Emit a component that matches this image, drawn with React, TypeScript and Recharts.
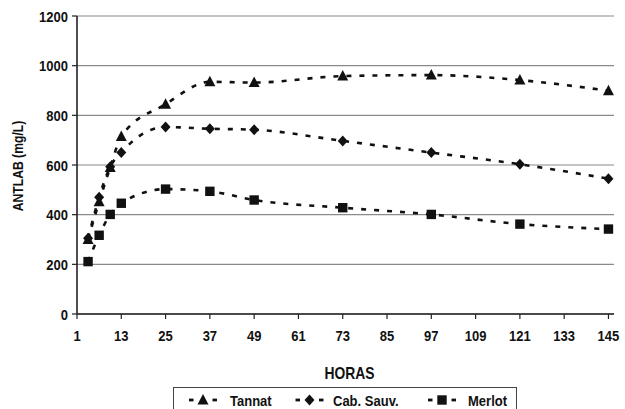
import React from 'react';
import { LineChart, Line, XAxis, YAxis, CartesianGrid } from 'recharts';

const hours = [4, 7, 10, 13, 25, 37, 49, 73, 97, 121, 145];
const tannat = [300, 452, 590, 715, 845, 935, 932, 958, 962, 942, 899];
const cabSauv = [305, 470, 593, 650, 753, 746, 742, 697, 650, 603, 545];
const merlot = [211, 317, 401, 446, 503, 494, 459, 428, 401, 362, 342];

const xTicks = [1, 13, 25, 37, 49, 61, 73, 85, 97, 109, 121, 133, 145];
const yTicks = [0, 200, 400, 600, 800, 1000, 1200];
const seriesNames = ['Tannat', 'Cab. Sauv.', 'Merlot'];
const xLabel = 'HORAS';
const yLabel = 'ANTLAB (mg/L)';

const data = hours.map((h, i) => ({ h, tannat: tannat[i], cab: cabSauv[i], merlot: merlot[i] }));

const FONT = '"Liberation Sans", Arial, sans-serif';
const NARROW = 0.84;
const INK = '#111';

function NText({ x, y, anchor = 'middle', size, rotate = 0, children }: any) {
  return (
    <text
      transform={`translate(${x},${y}) rotate(${rotate}) scale(${NARROW},1)`}
      textAnchor={anchor}
      fontSize={size}
      fontWeight="bold"
      fontFamily={FONT}
      fill="#111"
    >
      {children}
    </text>
  );
}

const triangle = (cx: number, cy: number, k = 1) => (
  <polygon points={`${cx},${cy - 6 * k} ${cx + 5.5 * k},${cy + 4.5 * k} ${cx - 5.5 * k},${cy + 4.5 * k}`} fill={INK} />
);
const diamond = (cx: number, cy: number, k = 1) => (
  <polygon points={`${cx},${cy - 5.5 * k} ${cx + 5 * k},${cy} ${cx},${cy + 5.5 * k} ${cx - 5 * k},${cy}`} fill={INK} />
);
const square = (cx: number, cy: number, k = 1) => (
  <rect x={cx - 4.7 * k} y={cy - 4.7 * k} width={9.4 * k} height={9.4 * k} fill={INK} />
);
const shapes = [triangle, diamond, square];

const makeDot = (shape: any) => (props: any) => {
  const { cx, cy, index } = props;
  if (cx == null || cy == null) return <g key={index} />;
  return <g key={index}>{shape(cx, cy)}</g>;
};

const XTick = (props: any) => (
  <NText x={props.x} y={props.y + 22} size={15.5}>
    {props.payload.value}
  </NText>
);
const YTick = (props: any) => (
  <NText x={props.x} y={props.y + 5.5} anchor="end" size={15.5}>
    {props.payload.value}
  </NText>
);

const XLab = (props: any) => {
  const vb = props.viewBox;
  return (
    <NText x={vb.x + vb.width / 2 + 4} y={379} size={16.5}>
      {xLabel}
    </NText>
  );
};
const YLab = (props: any) => {
  const vb = props.viewBox;
  return (
    <NText x={23} y={vb.y + vb.height / 2 + 1} size={14.5} rotate={-90}>
      {yLabel}
    </NText>
  );
};

const legendItems = [
  { c: 30, t: 57 },
  { c: 136.5, t: 160 },
  { c: 269, t: 295 },
];

function LegendBox() {
  return (
    <svg
      width={345}
      height={30}
      style={{ position: 'absolute', left: 173, top: 387, overflow: 'hidden' }}
    >
      <rect x={0.5} y={0.5} width={343} height={40} fill="#fff" stroke="#444" strokeWidth={1} />
      {seriesNames.map((name, i) => {
        const it = legendItems[i];
        return (
          <g key={name}>
            <line x1={it.c - 14} x2={it.c - 9.5} y1={13} y2={13} stroke={INK} strokeWidth={2.8} />
            <line x1={it.c + 9.5} x2={it.c + 14} y1={13} y2={13} stroke={INK} strokeWidth={2.8} />
            {shapes[i](it.c, 13)}
            <NText x={it.t} y={19} anchor="start" size={15.5}>
              {name}
            </NText>
          </g>
        );
      })}
    </svg>
  );
}

export default function App() {
  const keys = ['tannat', 'cab', 'merlot'];
  return (
    <div
      style={{
        position: 'absolute',
        left: 0,
        top: 0,
        width: 625,
        height: 409,
        overflow: 'hidden',
        background: '#fff',
      }}
    >
      <LineChart
        width={625}
        height={409}
        data={data}
        margin={{ top: 16, right: 11, bottom: 65, left: 0 }}
      >
        <CartesianGrid horizontal vertical={false} stroke="#8a8a8a" strokeWidth={1.2} yAxisId="left" />
        <XAxis
          dataKey="h"
          type="number"
          domain={[1, 146.5]}
          ticks={xTicks}
          interval={0}
          height={30}
          tickSize={5}
          tickMargin={0}
          tick={XTick}
          axisLine={{ stroke: '#222', strokeWidth: 1.6 }}
          tickLine={{ stroke: '#222', strokeWidth: 1.2 }}
          label={XLab}
        />
        <YAxis
          yAxisId="left"
          domain={[0, 1200]}
          ticks={yTicks}
          interval={0}
          width={77}
          tickSize={5}
          tickMargin={4}
          tick={YTick}
          axisLine={{ stroke: '#222', strokeWidth: 1.6 }}
          tickLine={{ stroke: '#222', strokeWidth: 1.2 }}
          label={YLab}
        />
        <YAxis
          yAxisId="right"
          orientation="right"
          domain={[0, 1200]}
          width={0}
          tick={false}
          tickLine={false}
          axisLine={{ stroke: '#8a8a8a', strokeWidth: 1.2 }}
        />
        {keys.map((k, i) => (
          <Line
            key={k}
            yAxisId="left"
            dataKey={k}
            name={seriesNames[i]}
            type="monotone"
            stroke={INK}
            strokeWidth={2.6}
            strokeDasharray="5 8"
            dot={makeDot(shapes[i])}
            activeDot={false}
            isAnimationActive={false}
          />
        ))}
      </LineChart>
      <LegendBox />
    </div>
  );
}
